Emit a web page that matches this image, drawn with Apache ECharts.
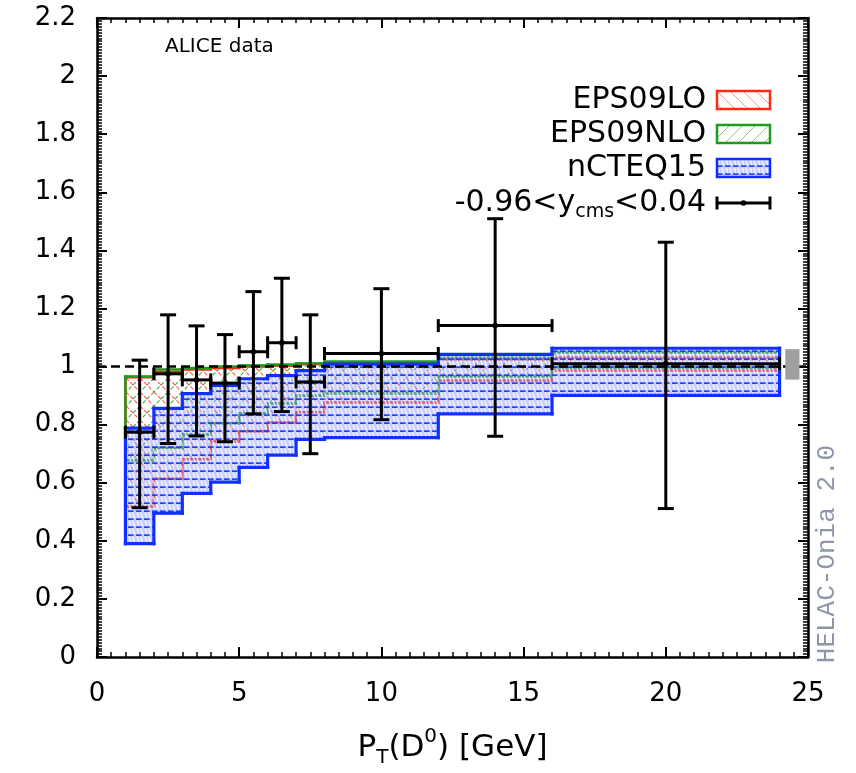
<!DOCTYPE html>
<html>
<head>
<meta charset="utf-8">
<script src="https://cdn.jsdelivr.net/npm/echarts@6/dist/echarts.min.js"></script>
<style>
html,body{margin:0;padding:0;background:#fff;}
#chart{width:856px;height:773px;}
</style>
</head>
<body>
<div id="chart"></div>
<script>
// ---- data ----
const binLo = [1, 2, 3, 4, 5, 6, 7, 8, 12, 16];
const binHi = [2, 3, 4, 5, 6, 7, 8, 12, 16, 24];

const eps09loLower = [0.518, 0.614, 0.681, 0.742, 0.777, 0.808, 0.843, 0.876, 0.952, 0.986];
const eps09loUpper = [0.963, 0.982, 0.990, 0.995, 1.000, 1.003, 1.008, 1.014, 1.025, 1.031];

const eps09nloLower = [0.677, 0.720, 0.766, 0.805, 0.839, 0.873, 0.900, 0.907, 0.966, 0.997];
const eps09nloUpper = [0.966, 0.990, 0.995, 1.000, 1.004, 1.007, 1.011, 1.017, 1.031, 1.048];

const ncteqLower = [0.390, 0.495, 0.563, 0.602, 0.653, 0.695, 0.749, 0.755, 0.837, 0.901];
const ncteqUpper = [0.788, 0.856, 0.907, 0.935, 0.958, 0.969, 0.986, 1.008, 1.042, 1.063];

const dataX = [1.5, 2.5, 3.5, 4.5, 5.5, 6.5, 7.5, 10, 14, 20];
const dataY = [0.774, 0.975, 0.954, 0.943, 1.051, 1.082, 0.947, 1.045, 1.141, 1.010];
const dataErrLo = [0.514, 0.735, 0.761, 0.741, 0.837, 0.845, 0.700, 0.817, 0.760, 0.511];
const dataErrHi = [1.022, 1.178, 1.140, 1.110, 1.258, 1.304, 1.178, 1.268, 1.509, 1.428];

const normBox = [24.2, 24.7, 0.955, 1.060];

const xTicks = [0, 5, 10, 15, 20, 25];
const yTicks = [0, 0.2, 0.4, 0.6, 0.8, 1, 1.2, 1.4, 1.6, 1.8, 2, 2.2];

const legendNames = ['EPS09LO', 'EPS09NLO', 'nCTEQ15'];

// ---- patterns ----
function hatch(color, dir, size, lw, bg, dash) {
  const c = document.createElement('canvas');
  c.width = size; c.height = size;
  const g = c.getContext('2d');
  if (bg) { g.fillStyle = bg; g.fillRect(0, 0, size, size); }
  g.strokeStyle = color; g.lineWidth = lw;
  if (dash) g.setLineDash(dash);
  g.beginPath();
  for (let k = -1; k <= 1; k++) {
    if (dir === '\\') { g.moveTo(k * size, 0); g.lineTo(k * size + size, size); }
    else { g.moveTo(k * size + size, 0); g.lineTo(k * size, size); }
  }
  g.stroke();
  return c;
}
function bluePattern() {
  const s = 8;
  const c = document.createElement('canvas');
  c.width = s; c.height = s;
  const g = c.getContext('2d');
  g.fillStyle = 'rgba(140,155,255,0.48)';
  g.fillRect(0, 0, s, s);
  g.strokeStyle = 'rgba(255,255,255,0.85)';
  g.lineWidth = 1.3;
  g.beginPath();
  g.moveTo(1, 0.5); g.lineTo(3, 5.8);
  g.moveTo(4.5, 0.5); g.lineTo(6.5, 5.8);
  g.stroke();
  g.strokeStyle = 'rgba(25,55,255,0.95)';
  g.lineWidth = 1.7;
  g.beginPath();
  g.moveTo(0, 7.2); g.lineTo(5.5, 7.2);
  g.stroke();
  return c;
}
const redPat = hatch('rgba(255,60,40,0.85)', '\\', 14, 1.1, null, [4, 2]);
const greenPat = hatch('rgba(30,150,30,0.8)', '/', 14, 1.1, null, [4, 2]);
const bluePat = bluePattern();

function bandData(lo, hi) {
  return binLo.map((b, i) => [b, binHi[i], lo[i], hi[i]]);
}

function bandRender(lo, hi, color, pat, lw) {
  return function (params, api) {
    const i = params.dataIndex;
    const x0 = api.value(0), x1 = api.value(1), l = api.value(2), h = api.value(3);
    const tl = api.coord([x0, h]), tr = api.coord([x1, h]);
    const bl = api.coord([x0, l]), br = api.coord([x1, l]);
    const ch = [];
    ch.push({ type: 'rect', shape: { x: bl[0], y: tl[1], width: tr[0] - tl[0], height: bl[1] - tl[1] },
      style: { fill: { image: pat, repeat: 'repeat' } }, z2: 1 });
    const ls = { stroke: color, lineWidth: lw, lineCap: 'square', fill: null };
    ch.push({ type: 'polyline', shape: { points: [tl, tr] }, style: ls, z2: 2 });
    ch.push({ type: 'polyline', shape: { points: [bl, br] }, style: ls, z2: 2 });
    if (i === 0) {
      ch.push({ type: 'polyline', shape: { points: [bl, tl] }, style: ls, z2: 2 });
    } else {
      const ph = api.coord([x0, hi[i - 1]]), pl = api.coord([x0, lo[i - 1]]);
      ch.push({ type: 'polyline', shape: { points: [ph, tl] }, style: ls, z2: 2 });
      ch.push({ type: 'polyline', shape: { points: [pl, bl] }, style: ls, z2: 2 });
    }
    if (i === binLo.length - 1) {
      ch.push({ type: 'polyline', shape: { points: [br, tr] }, style: ls, z2: 2 });
    }
    return { type: 'group', children: ch };
  };
}

function errRender(params, api) {
  const x = api.value(0), y = api.value(1), lo = api.value(2), hi = api.value(3);
  const x0 = api.value(4), x1 = api.value(5);
  const pc = api.coord([x, y]);
  const pl = api.coord([x, lo]), ph = api.coord([x, hi]);
  const pxl = api.coord([x0, y]), pxh = api.coord([x1, y]);
  const cap = 8;
  const st = { stroke: '#000', lineWidth: 3, fill: null };
  return { type: 'group', children: [
    { type: 'line', shape: { x1: pl[0], y1: pl[1], x2: ph[0], y2: ph[1] }, style: st },
    { type: 'line', shape: { x1: pl[0] - cap, y1: pl[1], x2: pl[0] + cap, y2: pl[1] }, style: st },
    { type: 'line', shape: { x1: ph[0] - cap, y1: ph[1], x2: ph[0] + cap, y2: ph[1] }, style: st },
    { type: 'line', shape: { x1: pxl[0], y1: pxl[1], x2: pxh[0], y2: pxh[1] }, style: st },
    { type: 'line', shape: { x1: pxl[0], y1: pxl[1] - 6.5, x2: pxl[0], y2: pxl[1] + 6.5 }, style: st },
    { type: 'line', shape: { x1: pxh[0], y1: pxh[1] - 6.5, x2: pxh[0], y2: pxh[1] + 6.5 }, style: st },
    { type: 'circle', shape: { cx: pc[0], cy: pc[1], r: 2.8 }, style: { fill: '#000' } }
  ] };
}

function boxRender(params, api) {
  const a = api.coord([api.value(0), api.value(3)]);
  const b = api.coord([api.value(1), api.value(2)]);
  return { type: 'rect', shape: { x: a[0], y: a[1], width: b[0] - a[0], height: b[1] - a[1] },
    style: { fill: '#a0a0a0' } };
}

const errData = dataX.map((x, i) => [x, dataY[i], dataErrLo[i], dataErrHi[i], binLo[i], binHi[i]]);

const FONT = 'DejaVu Sans';
const chart = echarts.init(document.getElementById('chart'), null, { renderer: 'canvas' });

const axisLineStyle = { color: '#000', width: 2.5 };
const xAxisCommon = {
  type: 'value', min: 0, max: 25, interval: 5,
  axisLine: { show: true, onZero: false, lineStyle: axisLineStyle },
  axisTick: { show: true, inside: true, length: 10, lineStyle: { color: '#000', width: 2 } },
  minorTick: { show: true, splitNumber: 10, length: 5, lineStyle: { color: '#000', width: 1.5 } },
  splitLine: { show: false }
};
const yAxisCommon = {
  type: 'value', min: 0, max: 2.2, interval: 0.2,
  axisLine: { show: true, onZero: false, lineStyle: axisLineStyle },
  axisTick: { show: true, inside: true, length: 10, lineStyle: { color: '#000', width: 2 } },
  minorTick: { show: true, splitNumber: 20, length: 5, lineStyle: { color: '#000', width: 1.5 } },
  splitLine: { show: false }
};

const swX = 717, swW = 53;
const legendRows = [
  { y: 100, color: '#ff2a10', pat: hatch('rgba(255,80,60,0.6)', '\\', 13, 1), name: legendNames[0] },
  { y: 134, color: '#1e9a1e', pat: hatch('rgba(40,150,40,0.55)', '/', 13, 1), name: legendNames[1] },
  { y: 168, color: '#1030ff', pat: bluePat, name: legendNames[2] }
];
const graphics = [];
legendRows.forEach(r => {
  graphics.push({ type: 'text', x: 706, y: r.y, style: {
    text: r.name, font: '30px "DejaVu Sans"', fill: '#000', align: 'right', verticalAlign: 'middle' } });
  graphics.push({ type: 'rect', x: swX, y: r.y - 9, shape: { x: 0, y: 0, width: swW, height: 18 },
    style: { fill: { image: r.pat, repeat: 'repeat' }, stroke: r.color, lineWidth: 2.5 } });
});
graphics.push({ type: 'text', x: 706, y: 203, style: {
  text: '-0.96<{y|y}{s|cms}<0.04', font: '30px "DejaVu Sans"', fill: '#000', align: 'right', verticalAlign: 'middle',
  rich: { y: { font: '30px "DejaVu Sans"', fill: '#000' },
          s: { font: '19px "DejaVu Sans"', fill: '#000', lineHeight: 36, padding: [19, 0, 0, 0] } } } });
graphics.push({ type: 'group', x: swX, y: 203, children: [
  { type: 'line', shape: { x1: 0, y1: 0, x2: swW, y2: 0 }, style: { stroke: '#000', lineWidth: 3 } },
  { type: 'line', shape: { x1: 0, y1: -6.5, x2: 0, y2: 6.5 }, style: { stroke: '#000', lineWidth: 3 } },
  { type: 'line', shape: { x1: swW, y1: -6.5, x2: swW, y2: 6.5 }, style: { stroke: '#000', lineWidth: 3 } },
  { type: 'circle', shape: { cx: swW / 2, cy: 0, r: 2.8 }, style: { fill: '#000' } }
] });
graphics.push({ type: 'text', x: 165, y: 47, style: {
  text: 'ALICE data', font: '20px "DejaVu Sans"', fill: '#000', verticalAlign: 'middle' } });
graphics.push({ type: 'text', x: 827, y: 554, rotation: Math.PI / 2, style: {
  text: 'HELAC-Onia 2.0', font: '26px "Liberation Mono"', fill: '#9096aa', align: 'center', verticalAlign: 'middle' } });

chart.setOption({
  animation: false,
  backgroundColor: '#fff',
  grid: { left: 97, right: 48, top: 18, bottom: 105, containLabel: false },
  xAxis: [
    Object.assign({}, xAxisCommon, { position: 'bottom',
      axisLabel: { show: true, fontSize: 26, fontFamily: FONT, color: '#000', margin: 24 },
      name: '{a|P}{s|T}{a|(D}{u|0}{a|) [GeV]}', nameLocation: 'middle', nameGap: 70,
      nameTextStyle: { fontSize: 31, fontFamily: FONT, color: '#000',
        rich: { a: { fontSize: 31, fontFamily: FONT, color: '#000' },
                s: { fontSize: 20, fontFamily: FONT, color: '#000', lineHeight: 36, padding: [20, 0, 0, 0] },
                u: { fontSize: 20, fontFamily: FONT, color: '#000', padding: [0, 0, 22, 0] } } } }),
    Object.assign({}, xAxisCommon, { position: 'top', axisLabel: { show: false } })
  ],
  yAxis: [
    Object.assign({}, yAxisCommon, { position: 'left',
      axisLabel: { show: true, fontSize: 26, fontFamily: FONT, color: '#000', margin: 21 } }),
    Object.assign({}, yAxisCommon, { position: 'right', axisLabel: { show: false } })
  ],
  graphic: graphics,
  series: [
    { type: 'custom', name: legendNames[0], data: bandData(eps09loLower, eps09loUpper),
      encode: { x: [0, 1], y: [2, 3] }, z: 2,
      renderItem: bandRender(eps09loLower, eps09loUpper, '#ff2a10', redPat, 2.5) },
    { type: 'custom', name: legendNames[1], data: bandData(eps09nloLower, eps09nloUpper),
      encode: { x: [0, 1], y: [2, 3] }, z: 3,
      renderItem: bandRender(eps09nloLower, eps09nloUpper, '#1e9a1e', greenPat, 2.5) },
    { type: 'custom', name: legendNames[2], data: bandData(ncteqLower, ncteqUpper),
      encode: { x: [0, 1], y: [2, 3] }, z: 4,
      renderItem: bandRender(ncteqLower, ncteqUpper, '#1030ff', bluePat, 3.2) },
    { type: 'custom', name: 'norm', data: [normBox], encode: { x: [0, 1], y: [2, 3] }, z: 5,
      renderItem: boxRender,
      markLine: { silent: true, symbol: 'none', label: { show: false },
        lineStyle: { color: '#000', width: 2.5, type: [9, 5] }, data: [{ yAxis: 1 }] } },
    { type: 'custom', name: 'ALICE', data: errData, encode: { x: [0, 4, 5], y: [1, 2, 3] }, z: 6,
      renderItem: errRender }
  ]
});
</script>
</body>
</html>
